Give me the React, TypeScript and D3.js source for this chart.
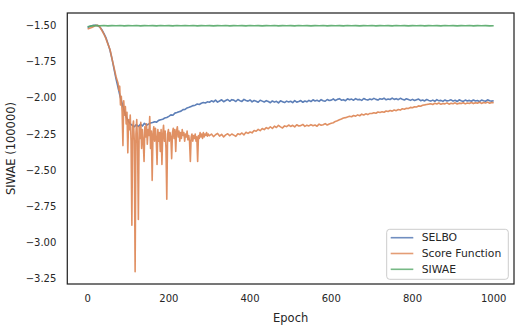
import React from 'react'
import * as d3 from 'd3'

// SELBO, one value every 5 epochs (0..1000)
const selbo = [
  -1.515, -1.508, -1.503, -1.5, -1.499, -1.502, -1.512, -1.53, -1.555, -1.585,
  -1.625, -1.67, -1.73, -1.8, -1.87, -1.93, -1.99, -2.04, -2.09, -2.13,
  -2.16, -2.18, -2.19, -2.2, -2.185, -2.198, -2.182, -2.195, -2.176, -2.19,
  -2.182, -2.174, -2.171, -2.165, -2.168, -2.156, -2.152, -2.148, -2.14, -2.136,
  -2.128, -2.118, -2.121, -2.106, -2.102, -2.096, -2.092, -2.082, -2.08, -2.07,
  -2.066, -2.06, -2.054, -2.051, -2.043, -2.046, -2.038, -2.033, -2.036, -2.028,
  -2.031, -2.021, -2.028, -2.016, -2.03, -2.022, -2.014, -2.027, -2.019, -2.012,
  -2.024, -2.013, -2.016, -2.026, -2.012, -2.02, -2.025, -2.011, -2.019, -2.023,
  -2.015, -2.028, -2.019, -2.024, -2.031, -2.017, -2.023, -2.029, -2.02, -2.026,
  -2.034, -2.022, -2.03, -2.024, -2.035, -2.021, -2.027, -2.033, -2.023, -2.029,
  -2.024, -2.033, -2.02, -2.03, -2.026, -2.019, -2.031, -2.022, -2.028, -2.018,
  -2.026, -2.014, -2.022, -2.017, -2.025, -2.013, -2.02, -2.024, -2.012, -2.019,
  -2.016, -2.008, -2.019, -2.011, -2.006, -2.017, -2.013, -2.02, -2.007, -2.014,
  -2.009, -2.017, -2.006, -2.014, -2.011, -2.018, -2.005, -2.012, -2.016, -2.008,
  -2.013, -2.004, -2.011, -2.016, -2.006, -2.01, -2.003, -2.014, -2.008, -2.012,
  -2.002, -2.011, -2.006, -2.013, -2.004, -2.01, -2.015, -2.007, -2.012, -2.018,
  -2.011, -2.019, -2.014, -2.009, -2.02, -2.015, -2.022, -2.012, -2.018, -2.023,
  -2.016, -2.024, -2.013, -2.021, -2.018, -2.025, -2.015, -2.022, -2.019, -2.014,
  -2.023, -2.017, -2.026, -2.014, -2.02, -2.025, -2.016, -2.022, -2.018, -2.024,
  -2.015, -2.022, -2.019, -2.026, -2.016, -2.021, -2.024, -2.014, -2.02, -2.023,
  -2.02,
]

// Score Function: epochs 0..75 every 5
const scoreStart = [
  -1.525, -1.52, -1.515, -1.508, -1.502, -1.5, -1.51, -1.535, -1.56, -1.59,
  -1.63, -1.665, -1.73, -1.79, -1.855, -1.9,
]
// epochs 77..299 every 2 (noisy part)
const scoreNoisy = [
  -1.95, -1.92, -2.05, -1.99, -2.1, -2.33, -2.02, -2.12, -2.06, -2.18,
  -2.1, -2.38, -2.15, -2.22, -2.12, -2.3, -2.88, -2.2, -2.16, -2.3,
  -3.2, -2.25, -2.15, -2.32, -2.84, -2.2, -2.28, -2.17, -2.35, -2.22,
  -2.3, -2.44, -2.2, -2.27, -2.18, -2.32, -2.22, -2.26, -2.13, -2.35,
  -2.23, -2.57, -2.25, -2.2, -2.3, -2.21, -2.28, -2.46, -2.22, -2.3,
  -2.24, -2.37, -2.22, -2.46, -2.25, -2.19, -2.3, -2.23, -2.35, -2.7,
  -2.25, -2.22, -2.3, -2.24, -2.27, -2.42, -2.24, -2.21, -2.28, -2.22,
  -2.37, -2.23, -2.2, -2.27, -2.23, -2.3, -2.24, -2.28, -2.22, -2.26,
  -2.24, -2.3, -2.25, -2.27, -2.23, -2.29, -2.26, -2.3, -2.44, -2.27,
  -2.25, -2.3, -2.26, -2.28, -2.25, -2.3, -2.27, -2.44, -2.26, -2.28,
  -2.24, -2.27, -2.25, -2.28, -2.24, -2.27, -2.25, -2.26, -2.24, -2.265,
  -2.25, -2.26,
]
// epochs 300..1000 every 5
const scoreEnd = [
  -2.262, -2.25, -2.268, -2.255, -2.246, -2.264, -2.252, -2.27, -2.256, -2.248,
  -2.262, -2.25, -2.258, -2.266, -2.248, -2.254, -2.243, -2.256, -2.238, -2.246,
  -2.236, -2.242, -2.226, -2.231, -2.218, -2.227, -2.212, -2.22, -2.206, -2.214,
  -2.2, -2.212, -2.196, -2.205, -2.19, -2.201, -2.208, -2.194, -2.199, -2.188,
  -2.198, -2.19, -2.201, -2.186, -2.195, -2.192, -2.184, -2.197, -2.189, -2.194,
  -2.185, -2.193, -2.188, -2.196, -2.182, -2.19, -2.186, -2.178, -2.188, -2.181,
  -2.176, -2.172, -2.163, -2.158, -2.152, -2.147, -2.14, -2.137, -2.132, -2.128,
  -2.131, -2.122, -2.127, -2.118, -2.124, -2.113, -2.119, -2.111, -2.116, -2.108,
  -2.109, -2.103, -2.107, -2.098, -2.101, -2.096, -2.1, -2.091, -2.095, -2.088,
  -2.092, -2.084, -2.089, -2.081, -2.085, -2.076, -2.079, -2.072, -2.074, -2.066,
  -2.069, -2.062, -2.064, -2.056, -2.058, -2.051, -2.049, -2.046, -2.044, -2.041,
  -2.046, -2.038, -2.043, -2.036, -2.045, -2.039, -2.042, -2.035, -2.044, -2.038,
  -2.041, -2.035, -2.043, -2.037, -2.04, -2.034, -2.042, -2.036, -2.039, -2.033,
  -2.04, -2.034, -2.037, -2.031, -2.039, -2.033, -2.036, -2.03, -2.038, -2.032,
  -2.034,
]

// SIWAE, one value every 10 epochs (0..1000)
const siwae = [
  -1.51, -1.504, -1.502, -1.503, -1.501, -1.504, -1.502, -1.503, -1.501, -1.504,
  -1.502, -1.503, -1.501, -1.504, -1.502, -1.503, -1.502, -1.504, -1.501, -1.503,
  -1.502, -1.504, -1.501, -1.503, -1.502, -1.503, -1.501, -1.504, -1.502, -1.503,
  -1.502, -1.504, -1.502, -1.503, -1.501, -1.504, -1.502, -1.503, -1.502, -1.504,
  -1.501, -1.503, -1.502, -1.504, -1.502, -1.503, -1.501, -1.504, -1.502, -1.503,
  -1.502, -1.504, -1.501, -1.503, -1.502, -1.504, -1.502, -1.503, -1.501, -1.504,
  -1.502, -1.503, -1.502, -1.504, -1.501, -1.503, -1.502, -1.504, -1.502, -1.503,
  -1.501, -1.504, -1.502, -1.503, -1.502, -1.504, -1.501, -1.503, -1.502, -1.504,
  -1.502, -1.503, -1.501, -1.504, -1.502, -1.503, -1.502, -1.504, -1.501, -1.503,
  -1.502, -1.504, -1.502, -1.503, -1.501, -1.504, -1.502, -1.503, -1.502, -1.504,
  -1.503,
]

const xTicks = [0, 200, 400, 600, 800, 1000]
const yTicks = [-1.5, -1.75, -2.0, -2.25, -2.5, -2.75, -3.0, -3.25]
const seriesNames = ['SELBO', 'Score Function', 'SIWAE']
const colors = ['#4c72b0', '#dd8452', '#55a868']

const toPoints = (vals: number[], start: number, step: number): [number, number][] =>
  vals.map((v, i) => [start + i * step, v])

const App = () => {
  const width = 526
  const height = 328
  const left = 67.3, right = 514, top = 13, bottom = 284

  const x = d3.scaleLinear().domain([-50, 1050]).range([left, right])
  const y = d3.scaleLinear().domain([-3.285, -1.415]).range([bottom, top])

  const line = d3.line<[number, number]>().x(d => x(d[0])).y(d => y(d[1]))

  const series: [number, number][][] = [
    toPoints(selbo, 0, 5),
    [...toPoints(scoreStart, 0, 5), ...toPoints(scoreNoisy, 77, 2), ...toPoints(scoreEnd, 300, 5)],
    toPoints(siwae, 0, 10),
  ]

  const fmt = (v: number) => (v < 0 ? '\u2212' : '') + Math.abs(v).toFixed(2)
  const font = 'DejaVu Sans, sans-serif'
  const textColor = '#262626'

  return (
    <svg width={width} height={height} style={{ position: 'absolute', left: 0, top: 0, background: '#fff' }}
      fontFamily={font}>
      <defs>
        <clipPath id="plot">
          <rect x={left} y={top} width={right - left} height={bottom - top} />
        </clipPath>
      </defs>
      <g clipPath="url(#plot)">
        {series.map((pts, i) => (
          <path key={i} d={line(pts) || ''} fill="none" stroke={colors[i]} strokeWidth={1.6}
            strokeOpacity={0.9} strokeLinejoin="round" />
        ))}
      </g>
      <rect x={left} y={top} width={right - left} height={bottom - top} fill="none"
        stroke={textColor} strokeWidth={1.25} />
      {yTicks.map(t => (
        <text key={t} x={left - 11} y={y(t)} dy="0.35em" textAnchor="end" fontSize={10} fill={textColor}>
          {fmt(t)}
        </text>
      ))}
      {xTicks.map(t => (
        <text key={t} x={x(t)} y={bottom + 14} dy="0.35em" textAnchor="middle" fontSize={10} fill={textColor}>
          {t}
        </text>
      ))}
      <text x={(left + right) / 2} y={318} dy="0.35em" textAnchor="middle" fontSize={11.5} fill={textColor}>
        Epoch
      </text>
      <text transform={`translate(11,${(top + bottom) / 2}) rotate(-90)`} dy="0.35em" textAnchor="middle"
        fontSize={11.5} fill={textColor}>
        SIWAE (100000)
      </text>
      <g>
        <rect x={386.7} y={229.3} width={121.6} height={50} rx={3} fill="#fff" fillOpacity={0.8}
          stroke="#cccccc" strokeWidth={1} />
        {seriesNames.map((name, i) => (
          <g key={name} transform={`translate(0,${237.7 + i * 15.8})`}>
            <line x1={390.7} x2={413.3} y1={0} y2={0} stroke={colors[i]} strokeWidth={1.6} strokeOpacity={0.8} />
            <text x={421.7} y={0} dy="0.35em" fontSize={10.8} fill={textColor}>{name}</text>
          </g>
        ))}
      </g>
    </svg>
  )
}

export default App
